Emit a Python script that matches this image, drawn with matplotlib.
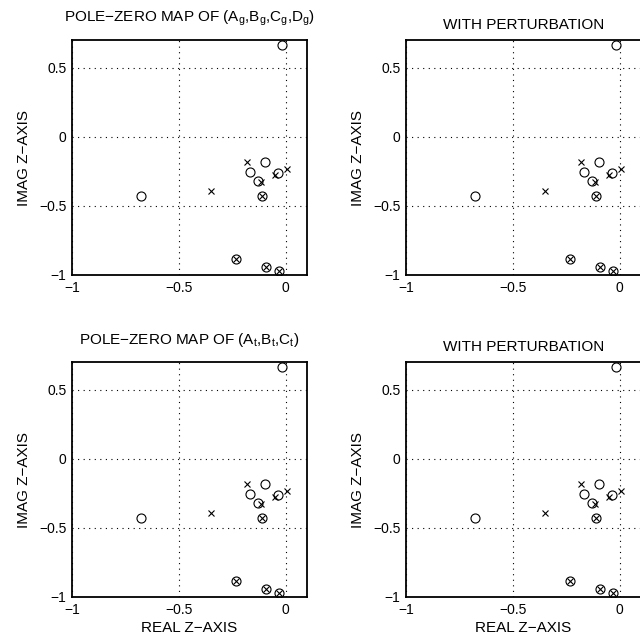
import matplotlib
matplotlib.use("Agg")
import matplotlib.pyplot as plt

plt.rcParams['font.family'] = ['Liberation Sans', 'DejaVu Sans']
plt.rcParams['mathtext.default'] = 'regular'

# poles (x) and zeros (o)
pole_re = [-0.35, -0.18, -0.113, -0.052, 0.008, -0.11, -0.231, -0.094, -0.031]
pole_im = [-0.39, -0.186, -0.33, -0.278, -0.234, -0.43, -0.882, -0.942, -0.971]
zero_re = [-0.015, -0.676, -0.097, -0.165, -0.13, -0.036, -0.11, -0.231, -0.094, -0.031]
zero_im = [0.665, -0.43, -0.18, -0.254, -0.32, -0.26, -0.43, -0.882, -0.942, -0.971]

titles = ['POLE\u2212ZERO MAP OF (A$_g$,B$_g$,C$_g$,D$_g$)',
          'WITH PERTURBATION',
          'POLE\u2212ZERO MAP OF (A$_t$,B$_t$,C$_t$)',
          'WITH PERTURBATION']
xticks = [-1, -0.5, 0]
xticklabels = ['\u22121', '\u22120.5', '0']
yticks = [-1, -0.5, 0, 0.5]
yticklabels = ['\u22121', '\u22120.5', '0', '0.5']

W = 640.0
# axes boxes in pixels: left, top, width, height
boxes = [(72, 40, 235, 235), (406, 40, 235, 235),
         (72, 362, 235, 235), (406, 362, 235, 235)]

fig = plt.figure(figsize=(6.4, 6.4), dpi=100)

for i, (l, t, w, h) in enumerate(boxes):
    ax = fig.add_axes([l / W, 1 - (t + h) / W, w / W, h / W])
    ax.plot(zero_re, zero_im, 'o', mfc='none', mec='black', ms=6.5, mew=0.8)
    ax.plot(pole_re, pole_im, 'x', color='black', ms=5, mew=0.8)
    ax.set_xlim(-1, 0.1)
    ax.set_ylim(-1, 0.7)
    ax.set_xticks(xticks)
    ax.set_xticklabels(xticklabels)
    ax.set_yticks(yticks)
    ax.set_yticklabels(yticklabels)
    ax.tick_params(length=0, labelsize=10, pad=4)
    ax.grid(True, linestyle=(0, (1, 4)), color='black', linewidth=0.8)
    for sp in ax.spines.values():
        sp.set_linewidth(1.3)
    # left titles sit a bit higher (subscripts)
    ax.set_title(titles[i], fontsize=11, pad=13 if i % 2 == 0 else 8)
    ax.set_ylabel('IMAG Z\u2212AXIS', fontsize=11, labelpad=6)
    if i >= 2:
        ax.set_xlabel('REAL Z\u2212AXIS', fontsize=11, labelpad=3)

fig.savefig('out.png', dpi=100)
